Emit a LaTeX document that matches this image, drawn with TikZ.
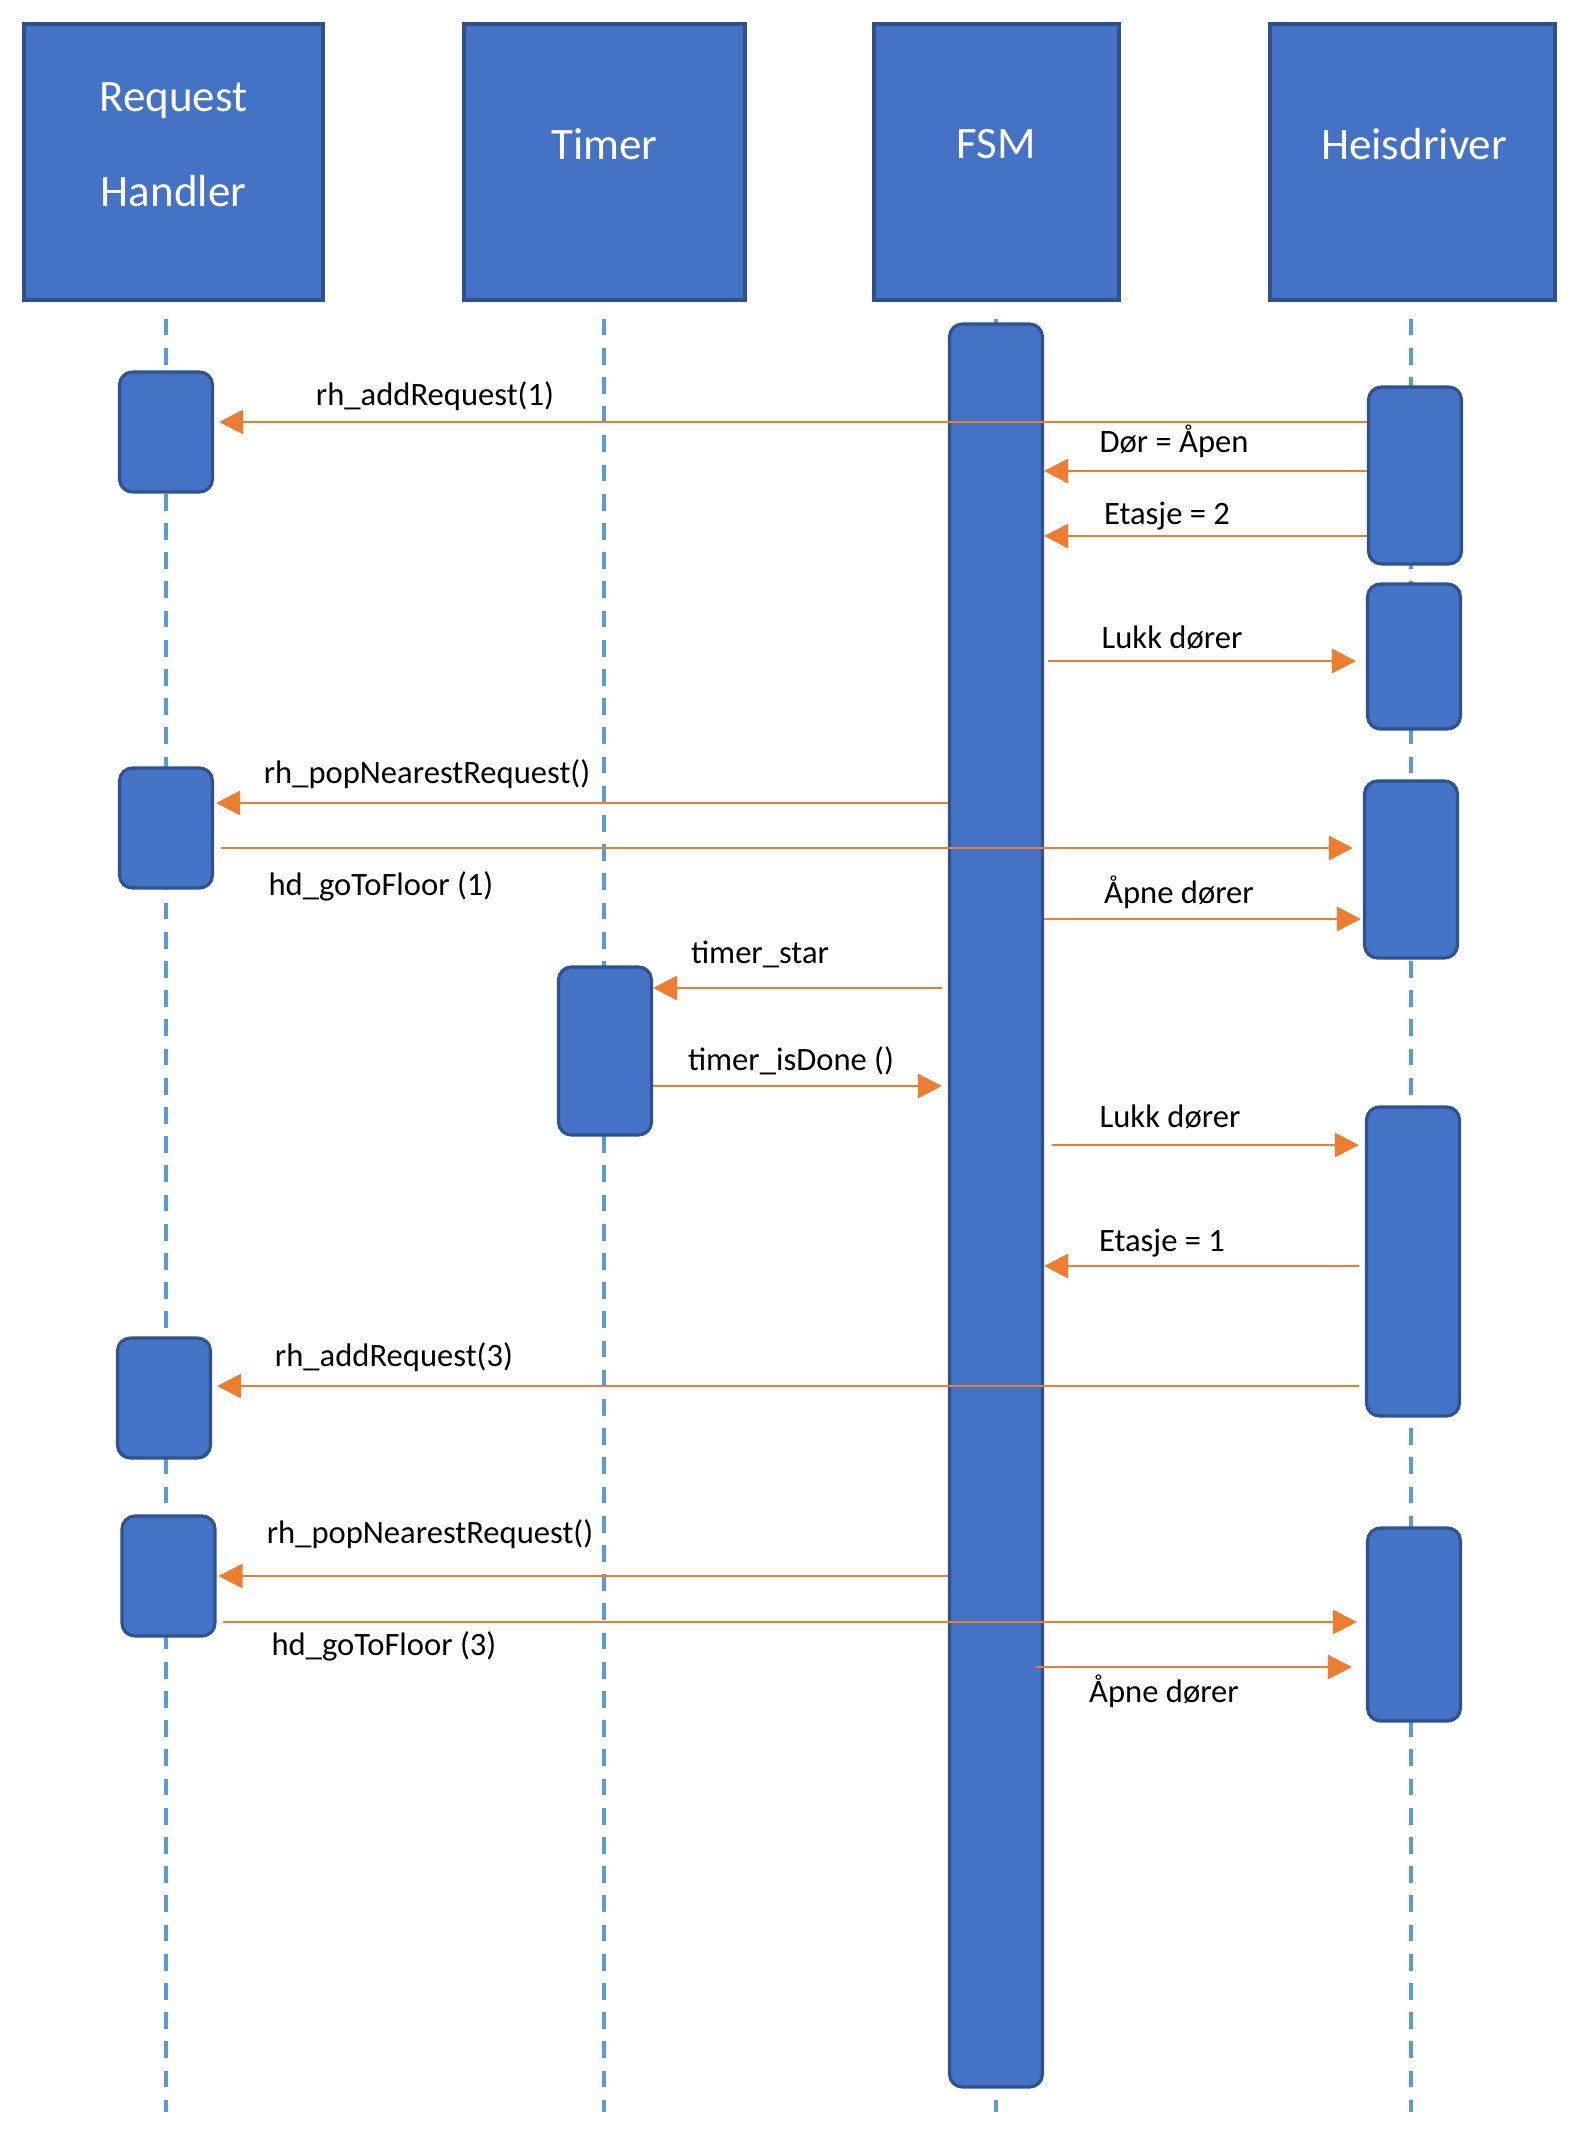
\documentclass[tikz,border=0pt]{standalone}
\usepackage{fontspec}
\setmainfont{Carlito}
\usetikzlibrary{arrows.meta}
\definecolor{boxblue}{HTML}{4472C4}
\definecolor{boxedge}{HTML}{2F528F}
\definecolor{lineblue}{HTML}{5B9BD5}
\definecolor{msgorange}{HTML}{ED7D31}
\tikzset{
  headbox/.style={draw=boxedge, fill=boxblue, line width=1.6pt, minimum height=138pt, inner sep=0pt},
  headtitle/.style={text=white, font=\fontsize{22.5pt}{47.5pt}\selectfont, align=center, inner sep=0pt},
  actbox/.style={draw=boxedge, fill=boxblue, line width=1.6pt, rounded corners=6.5pt, minimum width=46.5pt, inner sep=0pt},
  lifeline/.style={draw=lineblue, line width=1.6pt, dash pattern=on 8.35pt off 6.25pt},
  msgarrow/.style={draw=msgorange, line width=1.4pt, -{Triangle[length=12pt,width=12pt]}},
  msglabel/.style={font=\fontsize{16.3pt}{19pt}\selectfont, inner sep=0pt, anchor=base}
}
\begin{document}
\begin{tikzpicture}[x=0.5pt, y=-0.5pt]
  \useasboundingbox (0,0) rectangle (1578,2130);
  % lifeline heads
  \node[headbox, minimum width=149.5pt] (rh) at (173.5,162) {};
  \node[headbox, minimum width=140.5pt] (tm) at (604.5,162) {};
  \node[headbox, minimum width=122.5pt] (fsm) at (996.5,162) {};
  \node[headbox, minimum width=142.5pt] (hd) at (1412.5,162) {};
  \node[headtitle] (rhtitle) at (173.5,145) {Request\\Handler};
  \node[headtitle] (tmtitle) at (604.5,144) {Timer};
  \node[headtitle] (fsmtitle) at (996,144) {FSM};
  \node[headtitle] (hdtitle) at (1414,144) {Heisdriver};

  % lifelines
  \coordinate (rhline) at (166,2112);
  \coordinate (tmline) at (604,2112);
  \coordinate (fsmline) at (996,2112);
  \coordinate (hdline) at (1411,2112);
  \draw[lifeline, shorten <=8.5pt] (rh.south -| rhline) -- (rhline);
  \draw[lifeline, shorten <=8.5pt] (tm.south -| tmline) -- (tmline);
  \draw[lifeline, shorten <=8.5pt] (fsm.south -| fsmline) -- (fsmline);
  \draw[lifeline, shorten <=8.5pt] (hd.south -| hdline) -- (hdline);

  % activations
  \node[actbox, minimum height=60pt] (rh1) at (166,432) {};
  \node[actbox, minimum height=60pt] (rh2) at (166,828) {};
  \node[actbox, minimum height=60pt] (rh3) at (164,1398) {};
  \node[actbox, minimum height=60pt] (rh4) at (168.5,1576) {};
  \node[actbox, minimum height=84pt] (tm1) at (605,1051) {};
  \node[actbox, minimum height=881.5pt] (fsm1) at (996,1205.5) {};
  \node[actbox, minimum height=88.5pt] (hd1) at (1415,475.5) {};
  \node[actbox, minimum height=72.5pt] (hd2) at (1414,656.5) {};
  \node[actbox, minimum height=88.5pt] (hd3) at (1411,869.5) {};
  \node[actbox, minimum height=154.5pt] (hd4) at (1413,1261.5) {};
  \node[actbox, minimum height=96.5pt] (hd5) at (1414,1624.5) {};

  % messages
  \draw[msgarrow, shorten >=2.5pt] (hd1.west |- 0,422) -- (rh1.east |- 0,422);
  \draw[msgarrow] (hd1.west |- 0,471) -- (fsm1.east |- 0,471);
  \draw[msgarrow] (hd1.west |- 0,536) -- (fsm1.east |- 0,536);
  \draw[msgarrow, shorten <=2pt, shorten >=5pt] (fsm1.east |- 0,661) -- (hd2.west |- 0,661);
  \draw[msgarrow, shorten >=1pt] (fsm1.west |- 0,803) -- (rh2.east |- 0,803);
  \draw[msgarrow, shorten <=3.5pt, shorten >=5pt] (rh2.east |- 0,848) -- (hd3.west |- 0,848);
  \draw[msgarrow, shorten >=1pt] (fsm1.east |- 0,919) -- (hd3.west |- 0,919);
  \draw[msgarrow, shorten <=3pt] (fsm1.west |- 0,988) -- (tm1.east |- 0,988);
  \draw[msgarrow, shorten >=3pt] (tm1.east |- 0,1086) -- (fsm1.west |- 0,1086);
  \draw[msgarrow, shorten <=4pt, shorten >=3pt] (fsm1.east |- 0,1145) -- (hd4.west |- 0,1145);
  \draw[msgarrow, shorten <=3pt] (hd4.west |- 0,1266) -- (fsm1.east |- 0,1266);
  \draw[msgarrow, shorten <=3pt, shorten >=2.5pt] (hd4.west |- 0,1386) -- (rh3.east |- 0,1386);
  \draw[msgarrow, shorten >=1pt] (fsm1.west |- 0,1576) -- (rh4.east |- 0,1576);
  \draw[msgarrow, shorten <=3pt, shorten >=4.5pt] (rh4.east |- 0,1622) -- (hd5.west |- 0,1622);
  \draw[msgarrow, shorten <=-4pt, shorten >=7pt] (fsm1.east |- 0,1667) -- (hd5.west |- 0,1667);

  % message labels
  \node[msglabel] (m1) at (435,405) {rh\_addRequest(1)};
  \node[msglabel] (m2) at (1174,452) {Dør = Åpen};
  \node[msglabel] (m3) at (1167,524) {Etasje = 2};
  \node[msglabel] (m4) at (1172,648) {Lukk dører};
  \node[msglabel] (m5) at (427,783) {rh\_popNearestRequest()};
  \node[msglabel] (m6) at (381,895) {hd\_goToFloor (1)};
  \node[msglabel] (m7) at (1179,903) {Åpne dører};
  \node[msglabel] (m8) at (760,963) {timer\_star};
  \node[msglabel] (m9) at (791,1070) {timer\_isDone ()};
  \node[msglabel] (m10) at (1170,1127) {Lukk dører};
  \node[msglabel] (m11) at (1162,1251) {Etasje = 1};
  \node[msglabel] (m12) at (394,1366) {rh\_addRequest(3)};
  \node[msglabel] (m13) at (430,1543) {rh\_popNearestRequest()};
  \node[msglabel] (m14) at (384,1655) {hd\_goToFloor (3)};
  \node[msglabel] (m15) at (1164,1702) {Åpne dører};
\end{tikzpicture}
\end{document}
